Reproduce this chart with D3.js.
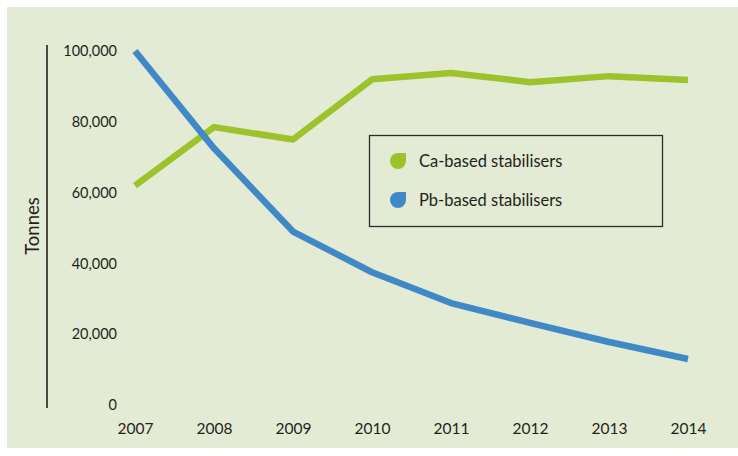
<!DOCTYPE html>
<html>
<head>
<meta charset="utf-8">
<script src="https://cdn.jsdelivr.net/npm/d3@7"></script>
<style>
  html, body { margin: 0; padding: 0; background: #ffffff; }
  svg { display: block; }
  text { font-family: "Lato", "Open Sans", sans-serif; fill: #231f20; }
</style>
</head>
<body>
<svg id="chart" width="738" height="456"></svg>
<script>
// Stabiliser consumption, tonnes per year
const years = [2007, 2008, 2009, 2010, 2011, 2012, 2013, 2014];
const caBased = [62000, 78500, 75000, 92000, 93800, 91200, 92900, 91800];
const pbBased = [100000, 72500, 49000, 37500, 28800, 23200, 17800, 13000];
const yTicks = [0, 20000, 40000, 60000, 80000, 100000];
const seriesNames = ["Ca-based stabilisers", "Pb-based stabilisers"];
const seriesColors = ["#9cc32b", "#3f8ac6"];

const svg = d3.select("#chart");
const W = 738, H = 456;

// background panel
svg.append("rect")
  .attr("x", 7).attr("y", 7)
  .attr("width", W - 7).attr("height", H - 15)
  .attr("fill", "#e4ebd4");

const x = d3.scalePoint().domain(years).range([135, 688]);
const y = d3.scaleLinear().domain([0, 100000]).range([405, 51]);

// vertical axis rule
svg.append("line")
  .attr("x1", 47).attr("x2", 47)
  .attr("y1", 45).attr("y2", 408)
  .attr("stroke", "#4a4a42").attr("stroke-width", 2);

// y tick labels
const fmt = d3.format(",");
const yAxis = d3.axisLeft(y).tickValues(yTicks).tickSize(0).tickPadding(0)
  .tickFormat(d => fmt(d));
const gy = svg.append("g").attr("transform", "translate(117,0)").call(yAxis);
gy.select(".domain").remove();
gy.selectAll("text")
  .attr("font-size", 14.5).attr("font-family", "Lato, sans-serif")
  .attr("fill", "#231f20");

// x tick labels
const xAxis = d3.axisBottom(x).tickSize(0).tickPadding(0).tickFormat(d => String(d));
const gx = svg.append("g").attr("transform", "translate(0,423)").call(xAxis);
gx.select(".domain").remove();
gx.selectAll("text")
  .attr("font-size", 15.5).attr("font-family", "Lato, sans-serif")
  .attr("fill", "#231f20");

// axis title
svg.append("text")
  .attr("transform", "translate(39,226) rotate(-90)")
  .attr("text-anchor", "middle")
  .attr("font-size", 18.5)
  .text("Tonnes");

// lines
const line = d3.line()
  .x((d, i) => x(years[i]))
  .y(d => y(d));

[caBased, pbBased].forEach((vals, k) => {
  svg.append("path")
    .datum(vals)
    .attr("d", line)
    .attr("fill", "none")
    .attr("stroke", seriesColors[k])
    .attr("stroke-width", 6.5)
    .attr("stroke-linejoin", "round")
    .attr("stroke-linecap", "butt");
});

// legend
const lg = svg.append("g");
lg.append("rect")
  .attr("x", 369.5).attr("y", 135.5)
  .attr("width", 293).attr("height", 91)
  .attr("fill", "none").attr("stroke", "#2b2b2b").attr("stroke-width", 1.3);

function drop(cx, cy, r) {
  return `M${cx - r},${cy} A${r},${r} 0 0 1 ${cx},${cy - r} L${cx + r},${cy - r} L${cx + r},${cy} A${r},${r} 0 0 1 ${cx},${cy + r} A${r},${r} 0 0 1 ${cx - r},${cy} Z`;
}

seriesNames.forEach((name, k) => {
  const cy = 161 + k * 39;
  lg.append("path")
    .attr("d", drop(398, cy, 8))
    .attr("fill", seriesColors[k]);
  lg.append("text")
    .attr("x", 419).attr("y", cy + 5.5)
    .attr("font-size", 16.5)
    .text(name);
});
</script>
</body>
</html>
